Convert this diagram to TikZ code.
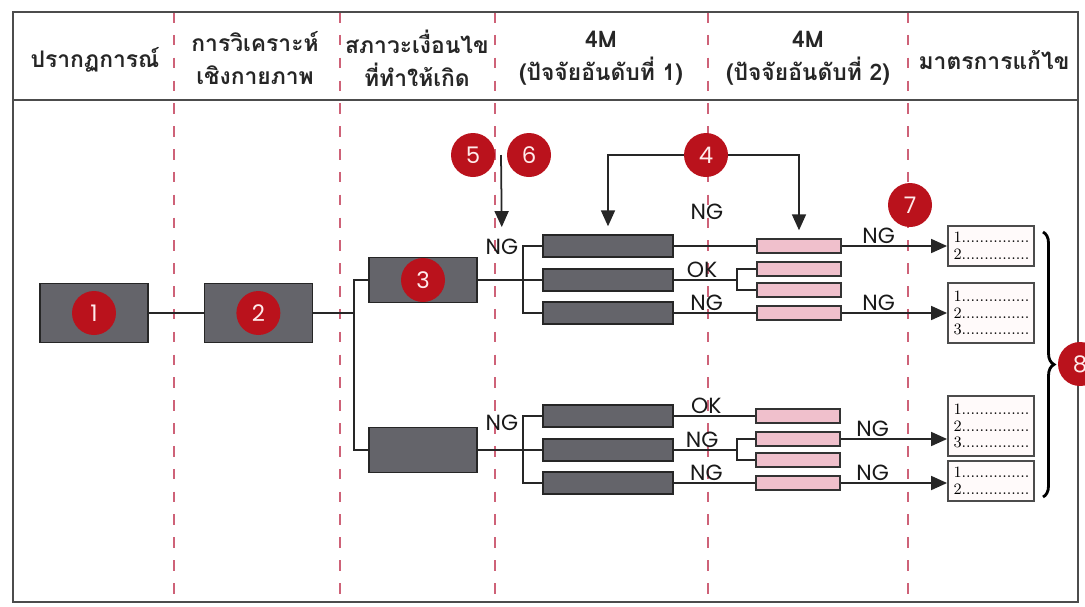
\documentclass[tikz,border=0pt]{standalone}
\usepackage{fontspec}
\newfontfamily\thaifont[Script=Thai]{Loma}
\newfontfamily\geofont{Poppins}
\usepackage{xcolor}
\usepackage{tikz}
\usetikzlibrary{arrows.meta,positioning,calc,decorations.pathreplacing}

\definecolor{boxgray}{RGB}{100,100,106}
\definecolor{badgered}{RGB}{186,18,28}
\definecolor{pinkbox}{RGB}{240,192,204}
\definecolor{sepred}{RGB}{206,98,120}

\begin{document}
\begin{tikzpicture}[x=0.02cm,y=-0.02cm,
    >={Triangle[length=3.2mm,width=2.8mm]},
    line/.style={draw=black!85,line width=1pt},
    flow/.style={->,draw=black!85,line width=1pt},
    sepline/.style={draw=sepred,line width=0.6pt,dash pattern=on 6pt off 7pt},
    frame/.style={draw=black!70,line width=1.1pt},
    head/.style={font=\thaifont\bfseries\fontsize{13}{19}\selectfont,align=center,text=black!85},
    block/.style={draw=black!85,fill=boxgray,line width=0.8pt,
      minimum width=2.16cm,inner sep=0pt},
    factor/.style={draw=black!85,fill=boxgray,line width=0.8pt,
      minimum width=2.6cm,minimum height=0.44cm,inner sep=0pt},
    second/.style={draw=black!80,fill=pinkbox,line width=0.8pt,
      minimum width=1.68cm,minimum height=0.28cm,inner sep=0pt},
    measure/.style={draw=black!70,fill=red!2,line width=1.1pt,minimum width=1.72cm,
      text width=1.5cm,align=left,inner sep=2pt,font=\fontsize{9}{9.5}\selectfont},
    badge/.style={circle,fill=badgered,minimum size=0.88cm,inner sep=0pt,
      text=red!8,font=\geofont\fontsize{13}{13}\selectfont},
    tag/.style={font=\geofont\fontsize{12.5}{14}\selectfont,inner sep=1pt,text=black!90}
  ]
    \useasboundingbox (0,0) rectangle (1085,606);
    % column separators and frame
    \foreach \sx in {174,340,495,708,908}
      \draw[sepline] (\sx,12) -- (\sx,602);
    \draw[frame] (13,12) rectangle (1078,602);
    \draw[frame] (13,100) -- (1078,100);

    % header
    \node[head] (hone) at (95,60) {ปรากฏการณ์};
    \node[head] (htwo) at (255,58) {การวิเคราะห์\\เชิงกายภาพ};
    \node[head] (hthree) at (417,58) {สภาวะเงื่อนไข\\ที่ทำให้เกิด};
    \node[head] (hfour) at (601,58) {4M\\(ปัจจัยอันดับที่ 1)};
    \node[head] (hfive) at (808,58) {4M\\(ปัจจัยอันดับที่ 2)};
    \node[head] (hsix) at (994,60) {มาตรการแก้ไข};

    % phenomenon and analysis blocks
    \node[block,minimum height=1.18cm] (boxone) at (94,313) {};
    \node[block,minimum height=1.18cm,right=1.1cm of boxone] (boxtwo) {};
    \node[block,minimum height=0.9cm] (boxthree) at (423,280) {};
    \node[block,minimum height=0.9cm] (boxfour) at (423,450) {};

    % first factors
    \node[factor] (faone) at (608,246) {};
    \node[factor] (fatwo) at (608,280) {};
    \node[factor] (fathree) at (608,313) {};
    \node[factor] (fbone) at (608,416) {};
    \node[factor] (fbtwo) at (608,450) {};
    \node[factor] (fbthree) at (608,483) {};

    % second factors
    \node[second] (paone) at (799,246) {};
    \node[second] (patwo) at (799,269) {};
    \node[second] (pathree) at (799,290) {};
    \node[second] (pafour) at (799,313) {};
    \node[second] (pbone) at (798,416) {};
    \node[second] (pbtwo) at (798,439) {};
    \node[second] (pbthree) at (798,460) {};
    \node[second] (pbfour) at (798,483) {};

    % countermeasures
    \node[measure,minimum height=0.8cm] (mone) at (991,246) {1...............\\2...............};
    \node[measure,minimum height=1.2cm] (mtwo) at (991,313) {1...............\\2...............\\3...............};
    \node[measure,minimum height=1.2cm] (mthree) at (991,426) {1...............\\2...............\\3...............};
    \node[measure,minimum height=0.8cm] (mfour) at (991,481) {1...............\\2...............};

    % branch points
    \coordinate (splitone) at (354,313);
    \coordinate (splittwo) at (523,280);
    \coordinate (splitthree) at (523,450);
    \coordinate (splitfour) at (737,280);
    \coordinate (splitfive) at (737,450);

    \draw[line] (boxone) -- (boxtwo);
    \draw[line] (boxtwo) -- (splitone);
    \draw[line] (splitone) |- (boxthree);
    \draw[line] (splitone) |- (boxfour);

    \draw[line] (boxthree) -- (fatwo);
    \draw[line] (splittwo) |- (faone);
    \draw[line] (splittwo) |- (fathree);
    \draw[line] (boxfour) -- (fbtwo);
    \draw[line] (splitthree) |- (fbone);
    \draw[line] (splitthree) |- (fbthree);

    \draw[line] (faone) -- (paone);
    \draw[line] (fatwo) -- node[tag,above,pos=0.45] {OK} (splitfour);
    \draw[line] (splitfour) |- (patwo);
    \draw[line] (splitfour) |- (pathree);
    \draw[line] (fathree) -- node[tag,above,pos=0.4] {NG} (pafour);

    \draw[line] (fbone) -- node[tag,above,pos=0.4] {OK} (pbone);
    \draw[line] (fbtwo) -- node[tag,above,pos=0.45] {NG} (splitfive);
    \draw[line] (splitfive) |- (pbtwo);
    \draw[line] (splitfive) |- (pbthree);
    \draw[line] (fbthree) -- node[tag,above,pos=0.4] {NG} (pbfour);

    \draw[flow] (paone) -- node[tag,above,pos=0.35] {NG} (mone);
    \draw[flow] (pafour) -- node[tag,above,pos=0.35] {NG} (mtwo);
    \draw[flow] (pbtwo.east) -- node[tag,above,pos=0.3] {NG} (pbtwo.east -| mthree.west);
    \draw[flow] (pbfour.east) -- node[tag,above,pos=0.3] {NG} (pbfour.east -| mfour.west);

    % labels beside the branches
    \node[tag] (nga) at (502,247) {NG};
    \node[tag] (ngb) at (502,423) {NG};
    \node[tag] (ngtop) at (707,212) {NG};

    % numbered badges
    \node[badge] (cone) at (boxone) {1};
    \node[badge] (ctwo) at (boxtwo) {2};
    \node[badge] (cthree) at (boxthree) {3};
    \node[badge] (cfour) at (706,155) {4};
    \node[badge] (cfive) at (473,155) {5};
    \node[badge] (csix) at (529,155) {6};
    \node[badge] (cseven) at (910,205) {7};
    \node[badge] (ceight) at (1080,364) {8};

    \coordinate (drop) at ($(cfive)!0.5!(csix)$);
    \draw[flow,shorten >=0.2cm] (drop) -- (nga);
    \draw[flow,shorten >=0.16cm] (cfour) -| (faone);
    \draw[flow,shorten >=0.16cm] (cfour) -| (paone);

    % brace round the countermeasures
    \coordinate (bracetop) at (1043,232);
    \coordinate (bracebot) at (1043,497);
    \draw[line width=1.6pt,decorate,decoration={brace,amplitude=0.22cm}] (bracetop) -- (bracebot);
  \end{tikzpicture}
\end{document}
